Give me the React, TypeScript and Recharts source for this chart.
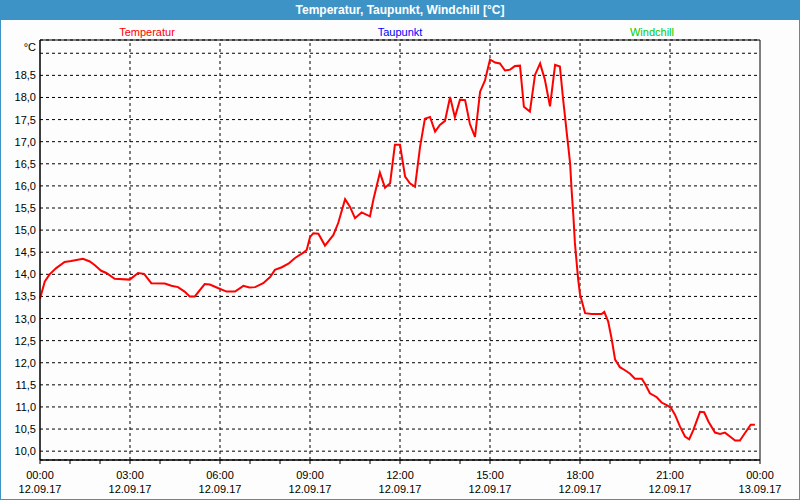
import React from 'react';
import { LineChart, Line, XAxis, YAxis, CartesianGrid, ReferenceLine, ReferenceArea } from 'recharts';

const hours = [
  0.0, 0.16, 0.32, 0.54, 0.82, 1.04, 1.43, 1.66, 1.82, 2.04, 2.21, 2.49, 2.99, 3.27, 3.47, 3.71,
  4.16, 4.38, 4.6, 4.82, 4.99, 5.16, 5.49, 5.66, 5.93, 6.22, 6.5, 6.78, 6.98, 7.17, 7.44, 7.67,
  7.83, 8.06, 8.28, 8.5, 8.78, 8.89, 9.0, 9.11, 9.28, 9.5, 9.78, 9.94, 10.17, 10.33, 10.5, 10.72,
  11.0, 11.11, 11.33, 11.5, 11.67, 11.83, 12.0, 12.17, 12.33, 12.5, 12.67, 12.83, 13.0, 13.17,
  13.33, 13.5, 13.67, 13.83, 14.0, 14.17, 14.33, 14.5, 14.67, 14.83, 15.0, 15.17, 15.33, 15.5,
  15.67, 15.83, 16.0, 16.13, 16.33, 16.5, 16.67, 16.83, 17.0, 17.17, 17.33, 17.44, 17.5, 17.56,
  17.61, 17.67, 17.72, 17.78, 17.83, 17.89, 17.94, 18.0, 18.11, 18.17, 18.39, 18.72, 18.81, 18.94,
  19.06, 19.17, 19.33, 19.5, 19.67, 19.83, 20.06, 20.17, 20.33, 20.56, 20.72, 20.89, 21.03, 21.17,
  21.33, 21.5, 21.64, 21.78, 22.0, 22.14, 22.28, 22.5, 22.67, 22.83, 23.0, 23.17, 23.33, 23.5,
  23.69, 23.83,
];

const temperatur = [
  13.45, 13.84, 14.0, 14.14, 14.28, 14.3, 14.35, 14.29, 14.21, 14.08, 14.03, 13.9, 13.88, 14.03, 14.01, 13.8,
  13.79, 13.74, 13.71, 13.61, 13.5, 13.5, 13.78, 13.77, 13.69, 13.61, 13.61, 13.74, 13.7, 13.71, 13.8, 13.94,
  14.1, 14.16, 14.24, 14.37, 14.49, 14.55, 14.84, 14.93, 14.92, 14.65, 14.89, 15.16, 15.7, 15.53, 15.27, 15.4,
  15.31, 15.68, 16.3, 15.96, 16.06, 16.93, 16.93, 16.21, 16.06, 15.98, 16.89, 17.52, 17.56, 17.23,
  17.38, 17.47, 18.01, 17.55, 17.95, 17.94, 17.4, 17.11, 18.13, 18.38, 18.86, 18.79, 18.77, 18.61,
  18.63, 18.71, 18.72, 17.79, 17.68, 18.51, 18.77, 18.4, 17.8, 18.74, 18.7, 17.94, 17.57, 17.19,
  16.89, 16.51, 15.91, 15.31, 14.71, 14.25, 13.88, 13.55, 13.27, 13.12, 13.1, 13.1, 13.15, 12.93,
  12.52, 12.07, 11.9, 11.83, 11.75, 11.64, 11.64, 11.52, 11.31, 11.22, 11.1, 11.04, 10.98, 10.82,
  10.56, 10.33, 10.27, 10.48, 10.89, 10.88, 10.67, 10.42, 10.39, 10.42, 10.33, 10.24, 10.24, 10.41,
  10.6, 10.6,
];

const xTicks = [0, 1, 2, 3, 4, 5, 6, 7, 8, 9, 10, 11, 12, 13, 14, 15, 16, 17, 18, 19, 20, 21, 22, 23, 24];
const gridHours = [3, 6, 9, 12, 15, 18, 21];
const timeLabels = ['00:00', '03:00', '06:00', '09:00', '12:00', '15:00', '18:00', '21:00', '00:00'];
const dateLabels = ['12.09.17', '12.09.17', '12.09.17', '12.09.17', '12.09.17', '12.09.17', '12.09.17', '12.09.17', '13.09.17'];
const yTicks = [10, 10.5, 11, 11.5, 12, 12.5, 13, 13.5, 14, 14.5, 15, 15.5, 16, 16.5, 17, 17.5, 18, 18.5, 19];
const legendNames = ['Temperatur', 'Taupunkt', 'Windchill'];
const legendColors = ['#ff0000', '#0000ff', '#00cc00'];
const title = 'Temperatur, Taupunkt, Windchill [°C]';

const data = hours.map((h, i) => ({ h, t: temperatur[i] }));

const FONT = '"Liberation Sans", Arial, sans-serif';

const XTick = (props: any) => {
  const { x, y, payload } = props;
  const v = payload.value;
  if (v % 3 !== 0) return null;
  const idx = v / 3;
  return (
    <g>
      <text x={x} y={y} dy={13} textAnchor="middle" fontSize={11} fontFamily={FONT} fill="#000">{timeLabels[idx]}</text>
      <text x={x} y={y} dy={27} textAnchor="middle" fontSize={11} fontFamily={FONT} fill="#000">{dateLabels[idx]}</text>
    </g>
  );
};

const YTick = (props: any) => {
  const { x, y, payload } = props;
  const v = payload.value;
  if (v === 19) {
    return (
      <text x={x} y={y} dy={-2} textAnchor="end" fontSize={11} fontFamily={FONT} fill="#000">°C</text>
    );
  }
  return (
    <text x={x} y={y} dy={4} textAnchor="end" fontSize={11} fontFamily={FONT} fill="#000">
      {v.toFixed(1).replace('.', ',')}
    </text>
  );
};

export default function App() {
  return (
    <div style={{ position: 'fixed', left: 0, top: 0, width: 800, height: 500, background: '#fcfdfc', fontFamily: FONT }}>
      <div style={{ position: 'absolute', left: 0, top: 0, width: 800, height: 20, background: '#3d93c6', color: '#fff', fontWeight: 'bold', fontSize: 12, lineHeight: '20px', textAlign: 'center' }}>
        {title}
      </div>
      <div style={{ position: 'absolute', left: 0, top: 0, width: 800, height: 500, boxSizing: 'border-box', border: '1px solid #3d93c6', pointerEvents: 'none' }} />
      <div style={{ position: 'absolute', left: 0, top: 0 }}>
        <LineChart width={800} height={500} data={data} margin={{ top: 40, right: 40, bottom: 0, left: 0 }}>
          <text x={147} y={36} textAnchor="middle" fontSize={11} fontFamily={FONT} fill={legendColors[0]}>{legendNames[0]}</text>
          <text x={400} y={36} textAnchor="middle" fontSize={11} fontFamily={FONT} fill={legendColors[1]}>{legendNames[1]}</text>
          <text x={652} y={36} textAnchor="middle" fontSize={11} fontFamily={FONT} fill={legendColors[2]}>{legendNames[2]}</text>
          <CartesianGrid vertical={false} stroke="#000" strokeDasharray="3 3" />
          {gridHours.map((g) => (
            <ReferenceLine key={g} x={g} stroke="#000" strokeDasharray="3 3" />
          ))}
          <ReferenceArea x1={0} x2={24} y1={9.8} y2={19.3} fill="none" fillOpacity={0} stroke="#000" strokeWidth={1} />
          <XAxis
            dataKey="h"
            type="number"
            domain={[0, 24]}
            ticks={xTicks}
            interval={0}
            height={40}
            tickSize={4}
            tickLine={{ stroke: '#000' }}
            axisLine={{ stroke: '#000' }}
            tick={<XTick />}
          />
          <YAxis
            type="number"
            domain={[9.8, 19.3]}
            ticks={yTicks}
            interval={0}
            allowDataOverflow
            width={40}
            tickSize={0}
            tickMargin={4}
            tickLine={false}
            axisLine={{ stroke: '#000' }}
            tick={<YTick />}
          />
          <Line type="linear" dataKey="t" stroke="#ff0000" strokeWidth={2} dot={false} isAnimationActive={false} />
        </LineChart>
      </div>
    </div>
  );
}
